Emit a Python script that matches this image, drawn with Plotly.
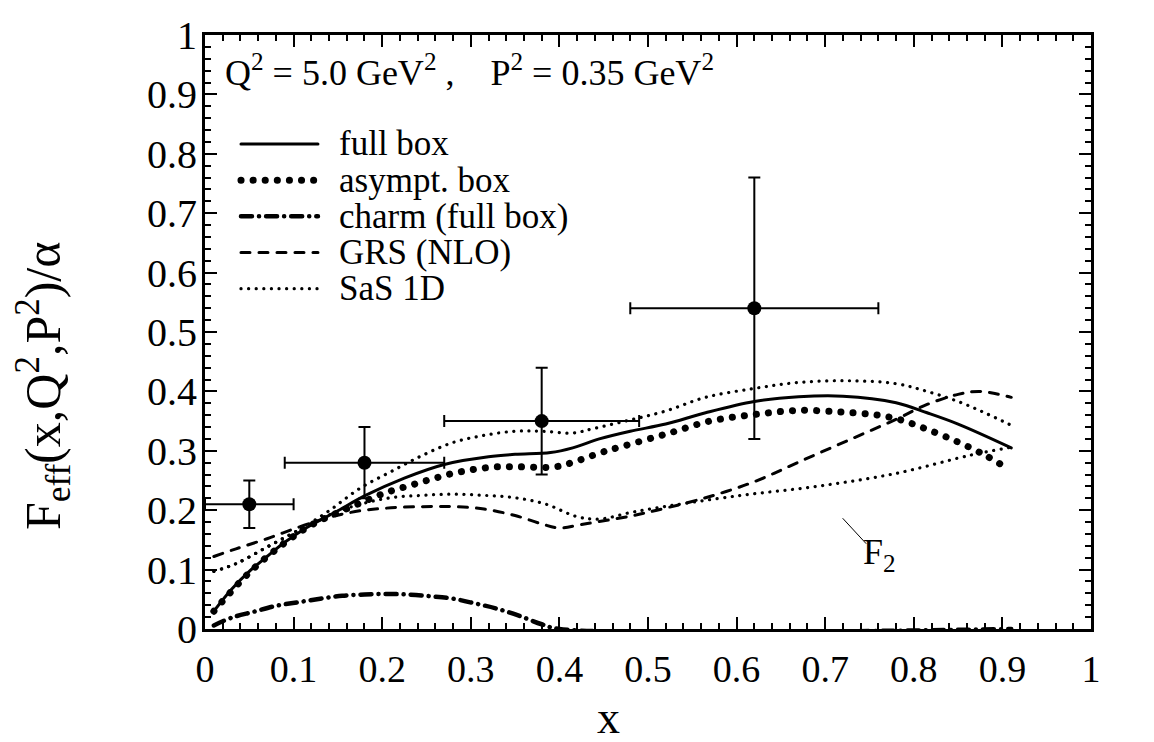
import plotly.graph_objects as go

# ---- data ----
full_box_x = [0.01, 0.03, 0.05, 0.07, 0.09, 0.115, 0.15, 0.18, 0.225, 0.27, 0.32, 0.35, 0.39, 0.415, 0.445, 0.48, 0.52, 0.565, 0.62, 0.67, 0.72, 0.78, 0.815, 0.85, 0.91]
full_box_y = [0.030, 0.067, 0.097, 0.122, 0.146, 0.171, 0.199, 0.224, 0.254, 0.277, 0.290, 0.294, 0.297, 0.305, 0.320, 0.333, 0.345, 0.364, 0.383, 0.391, 0.392, 0.381, 0.364, 0.345, 0.305]

asym_x = [0.01, 0.05, 0.09, 0.12, 0.15, 0.18, 0.205, 0.23, 0.255, 0.28, 0.305, 0.33, 0.355, 0.395, 0.42, 0.445, 0.47, 0.52, 0.57, 0.62, 0.67, 0.72, 0.76, 0.785, 0.81, 0.845, 0.88, 0.905]
asym_y = [0.030, 0.095, 0.145, 0.175, 0.196, 0.215, 0.230, 0.241, 0.252, 0.262, 0.269, 0.273, 0.273, 0.273, 0.283, 0.296, 0.307, 0.328, 0.350, 0.361, 0.368, 0.365, 0.360, 0.352, 0.339, 0.318, 0.293, 0.271]

charm_x = [0.01, 0.03, 0.055, 0.08, 0.105, 0.13, 0.155, 0.18, 0.205, 0.23, 0.255, 0.28, 0.305, 0.33, 0.355, 0.38, 0.40, 0.91]
charm_y = [0.006, 0.019, 0.029, 0.039, 0.045, 0.051, 0.056, 0.058, 0.059, 0.058, 0.055, 0.051, 0.043, 0.034, 0.022, 0.008, 0.0, 0.0]

grs_x = [0.01, 0.035, 0.07, 0.105, 0.14, 0.175, 0.21, 0.245, 0.28, 0.315, 0.35, 0.38, 0.40, 0.425, 0.48, 0.51, 0.565, 0.62, 0.67, 0.725, 0.78, 0.815, 0.85, 0.875, 0.91]
grs_y = [0.122, 0.135, 0.152, 0.171, 0.188, 0.199, 0.204, 0.206, 0.206, 0.202, 0.191, 0.177, 0.170, 0.176, 0.190, 0.200, 0.221, 0.248, 0.281, 0.317, 0.353, 0.378, 0.395, 0.400, 0.390]

sas_x = [0.01, 0.035, 0.07, 0.105, 0.14, 0.175, 0.21, 0.245, 0.28, 0.315, 0.35, 0.38, 0.415, 0.44, 0.48, 0.52, 0.565, 0.62, 0.67, 0.725, 0.78, 0.815, 0.85, 0.88, 0.91]
sas_y = [0.097, 0.110, 0.138, 0.166, 0.199, 0.237, 0.265, 0.292, 0.314, 0.326, 0.333, 0.333, 0.330, 0.338, 0.352, 0.367, 0.390, 0.405, 0.415, 0.418, 0.413, 0.400, 0.383, 0.364, 0.343]

f2_x = [0.01, 0.035, 0.07, 0.105, 0.14, 0.175, 0.21, 0.245, 0.28, 0.315, 0.35, 0.385, 0.42, 0.445, 0.48, 0.51, 0.60, 0.69, 0.78, 0.865, 0.91]
f2_y = [0.097, 0.110, 0.138, 0.166, 0.192, 0.210, 0.221, 0.225, 0.227, 0.225, 0.221, 0.210, 0.189, 0.185, 0.196, 0.204, 0.224, 0.240, 0.262, 0.293, 0.306]

data_x = [0.05, 0.18, 0.38, 0.62]
data_y = [0.21, 0.28, 0.35, 0.54]
data_xerr = [0.05, 0.09, 0.11, 0.14]
data_yerr = [0.04, 0.06, 0.09, 0.22]

x_ticks = [0, 0.1, 0.2, 0.3, 0.4, 0.5, 0.6, 0.7, 0.8, 0.9, 1]
x_ticklabels = ["0", "0.1", "0.2", "0.3", "0.4", "0.5", "0.6", "0.7", "0.8", "0.9", "1"]
y_ticks = x_ticks
y_ticklabels = x_ticklabels

legend_names = ["full box", "asympt. box", "charm (full box)", "GRS (NLO)", "SaS 1D"]

FONT = "Liberation Serif"

# ---- styles ----
styles = [
    dict(color="black", width=3),
    dict(color="black", width=7, dash="0.1px,12px"),
    dict(color="black", width=4.5, dash="11px,7px,0.1px,7px"),
    dict(color="black", width=3, dash="9px,9px"),
    dict(color="black", width=3.2, dash="0.1px,7.5px"),
]

fig = go.Figure()
series = [(full_box_x, full_box_y), (asym_x, asym_y), (charm_x, charm_y), (grs_x, grs_y), (sas_x, sas_y)]
for (xs, ys), name, st in zip(series, legend_names, styles):
    fig.add_trace(go.Scatter(x=xs, y=ys, mode="lines", name=name, showlegend=False,
                             line=dict(shape="spline", **st)))
fig.add_trace(go.Scatter(x=f2_x, y=f2_y, mode="lines", name="SaS 1D F2", showlegend=False,
                         line=dict(shape="spline", **styles[4])))
fig.add_trace(go.Scatter(x=data_x, y=data_y, mode="markers", showlegend=False, name="data",
                         marker=dict(color="black", size=14),
                         error_x=dict(type="data", array=data_xerr, color="black", thickness=2, width=6),
                         error_y=dict(type="data", array=data_yerr, color="black", thickness=2, width=6)))

axis_common = dict(
    range=[0, 1], showgrid=False, zeroline=False, showline=True, linecolor="black", linewidth=3,
    mirror="allticks", ticks="inside", ticklen=12, tickwidth=2, tickcolor="black",
    ticklabeloverflow="allow",
    minor=dict(dtick=0.02, ticks="inside", ticklen=6, tickwidth=1.5, tickcolor="black"),
)
fig.update_xaxes(**axis_common, tickvals=x_ticks, ticktext=x_ticklabels, ticklabelstandoff=4,
                 layer="below traces",
                 tickfont=dict(family=FONT, size=38, color="black"))
fig.update_yaxes(**axis_common, tickvals=y_ticks, ticktext=y_ticklabels, ticklabelstandoff=-3,
                 tickfont=dict(family=FONT, size=40, color="black"))

# axis titles
fig.add_annotation(xref="paper", yref="paper", x=0.455, y=-0.196, xanchor="center", yanchor="bottom",
                   showarrow=False, text="x", font=dict(family=FONT, size=46, color="black"))
fig.add_annotation(xref="paper", yref="paper", x=-0.183, y=0.409, xanchor="center", yanchor="middle",
                   showarrow=False, textangle=-90,
                   text="F<sub>eff</sub>(x,Q<sup>2</sup>,P<sup>2</sup>)/α",
                   font=dict(family=FONT, size=50, color="black"))

# header
fig.add_annotation(xref="paper", yref="paper", x=0.020, y=0.941, xanchor="left", yanchor="middle",
                   showarrow=False,
                   text="Q<sup>2</sup> = 5.0 GeV<sup>2</sup> ,\u00a0\u00a0\u00a0 P<sup>2</sup> = 0.35 GeV<sup>2</sup>",
                   font=dict(family=FONT, size=36, color="black"))

# hand-made legend (sample line + label per entry)
leg_top = 0.8165
leg_step = 0.0609
for i, (name, st) in enumerate(zip(legend_names, styles)):
    yy = leg_top - i * leg_step
    fig.add_shape(type="line", xref="paper", yref="paper", x0=0.0406, x1=0.1275, y0=yy, y1=yy,
                  line=st)
    fig.add_annotation(xref="paper", yref="paper", x=0.149, y=yy, xanchor="left", yanchor="middle",
                       showarrow=False, text=name, font=dict(family=FONT, size=35, color="black"))

# F2 label with a thin pointer line
fig.add_shape(type="line", xref="x", yref="y", x0=0.720, y0=0.186, x1=0.746, y1=0.144,
              line=dict(color="black", width=1))
fig.add_annotation(x=0.740, y=0.125, xref="x", yref="y", xanchor="left", yanchor="middle", showarrow=False,
                   text="F<sub>2</sub>", font=dict(family=FONT, size=36, color="black"))

fig.update_layout(
    width=1154, height=742, paper_bgcolor="white", plot_bgcolor="white",
    margin=dict(l=197, r=71, t=27, b=121, autoexpand=False),
    font=dict(family=FONT, color="black"),
    showlegend=False,
)

post = ("var s=document.createElement('style');"
        "s.textContent='.scatterlayer .js-line, .shapelayer path{stroke-linecap:round !important;}';"
        "document.head.appendChild(s);")
fig.write_html("out.html", post_script=post)
